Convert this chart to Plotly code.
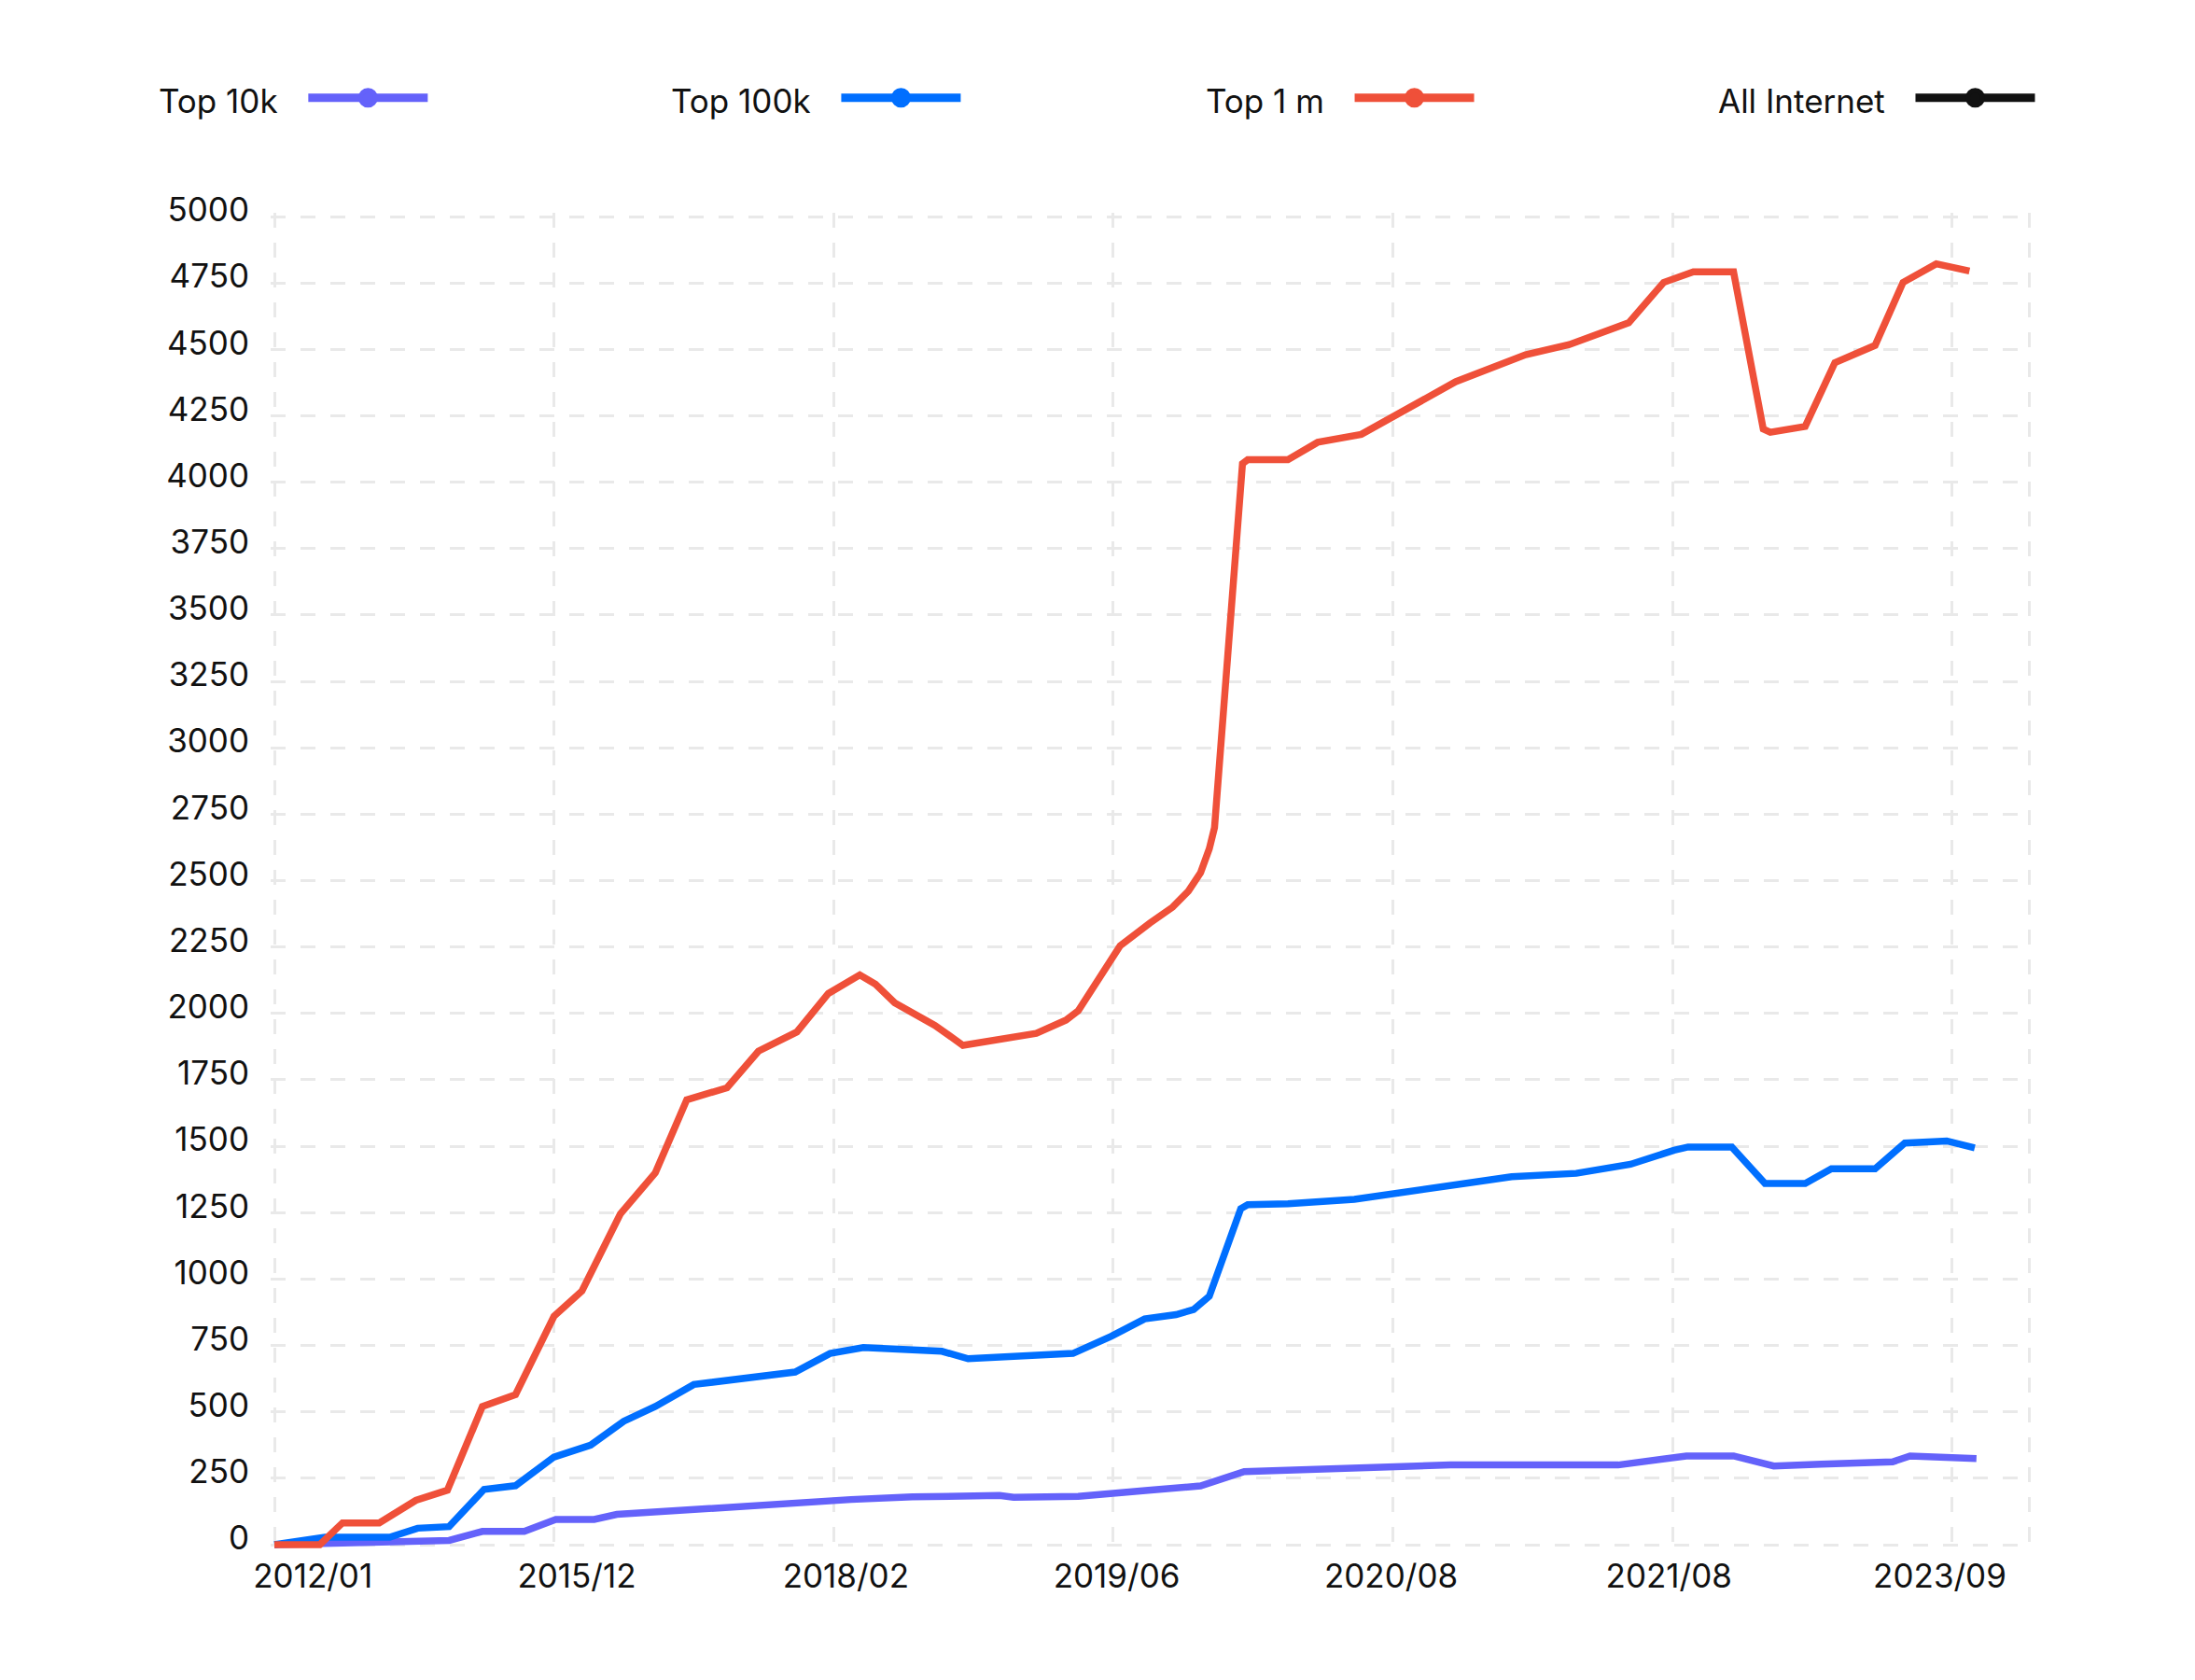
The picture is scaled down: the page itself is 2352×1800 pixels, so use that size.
import plotly.graph_objects as go

# ---- data (x = position along the irregular period axis) ----
top1m_x = [0, 2.6, 3.9, 6.0, 8.1, 9.9, 11.9, 13.8, 16.0, 17.6, 19.8, 21.8, 23.6, 25.9, 27.7, 29.9,
           31.7, 33.5, 34.4, 35.5, 37.8, 39.4, 43.6, 45.3, 46.0, 48.4, 50.1, 51.4, 52.3, 53.0, 53.5,
           53.8, 55.4, 55.7, 58.0, 59.7, 62.2, 67.6, 71.6, 74.1, 77.5, 79.5, 81.2, 83.5, 85.2, 85.6,
           87.6, 89.3, 91.6, 93.2, 95.1, 97.0]
top1m_y = [0, 0, 82, 82, 167, 205, 520, 565, 860, 955, 1245, 1400, 1675, 1720, 1858, 1930,
           2075, 2145, 2110, 2040, 1955, 1880, 1925, 1975, 2010, 2255, 2340, 2400, 2460, 2530, 2620,
           2700, 4070, 4085, 4085, 4150, 4180, 4378, 4480, 4518, 4600, 4752, 4792, 4792, 4200, 4188,
           4210, 4450, 4515, 4752, 4822, 4795]

top100k_x = [0, 2.9, 6.6, 8.2, 10.0, 12.0, 13.8, 16.0, 18.1, 20.0, 21.8, 24.0, 29.8, 31.8, 33.7,
             36.0, 38.2, 39.7, 45.7, 47.9, 49.8, 51.6, 52.6, 53.5, 55.3, 55.7, 58.0, 61.8, 63.4,
             65.9, 68.4, 70.8, 74.5, 77.6, 80.1, 80.9, 83.4, 85.3, 87.6, 89.1, 91.6, 93.3, 95.7, 97.3]
top100k_y = [0, 28, 28, 62, 68, 208, 222, 330, 375, 465, 520, 603, 650, 720, 742,
             732, 728, 700, 720, 785, 850, 866, 885, 935, 1265, 1280, 1283, 1300, 1315,
             1343, 1365, 1385, 1398, 1432, 1485, 1497, 1497, 1360, 1360, 1415, 1415, 1512, 1520, 1494]

top10k_x = [0, 10.0, 11.9, 14.3, 16.1, 18.3, 19.6, 22.9, 25.8, 29.1, 33.0, 36.5, 41.5, 42.3, 46.0,
            50.0, 53.0, 55.5, 59.7, 63.5, 67.3, 76.9, 79.0, 80.8, 83.5, 85.8, 88.5, 92.6, 93.6, 95.9, 97.4]
top10k_y = [0, 16, 50, 50, 95, 95, 114, 128, 146, 158, 170, 180, 185, 178, 182,
            205, 221, 275, 283, 293, 300, 300, 318, 334, 334, 296, 303, 312, 334, 330, 324]

series_names = ["Top 10k", "Top 100k", "Top 1 m", "All Internet"]
series_colors = ["#6462FA", "#006FFF", "#EF5039", "#111111"]

period_labels = ["2012/01", "2015/12", "2018/02", "2019/06", "2020/08", "2021/08", "2023/09"]
period_label_pos = [2.2, 17.3, 32.7, 48.2, 63.9, 79.8, 95.3]
grid_pos = [0, 16, 32, 48, 64, 80, 96, 100.4]
y_ticks = list(range(0, 5001, 250))

FONT = "Inter, Roboto, sans-serif"
FS = 35
W, H = 2352, 1800

# plot frame: x 0 -> 294px, 100.4 -> 2174px ; y 0 -> 1655px, 5000 -> 232px
ML, MR, MT, MB = 290, 174, 228, 141
x_scale = (2174 - 294) / 100.4
x_range = [-(294 - ML) / x_scale, 100.4 + (W - MR - 2174) / x_scale]
y_scale = (1655 - 232) / 5000
y_range = [-(H - MB - 1655) / y_scale, 5000 + (232 - MT) / y_scale]

fig = go.Figure()

series_data = [(top10k_x, top10k_y), (top100k_x, top100k_y), (top1m_x, top1m_y)]
for i, (xs, ys) in enumerate(series_data):
    fig.add_trace(go.Scatter(x=xs, y=ys, mode="lines", showlegend=False,
                             line=dict(color=series_colors[i], width=7.5),
                             hoverinfo="skip"))
# legend-only entries (one legend each, title on the left like the reference)
for i, name in enumerate(series_names):
    lg = "legend" if i == 0 else f"legend{i+1}"
    fig.add_trace(go.Scatter(x=[None], y=[None], mode="lines+markers", name=" ",
                             legend=lg, showlegend=True, xaxis="x2", yaxis="y",
                             line=dict(color=series_colors[i], width=9),
                             marker=dict(color=series_colors[i], size=30,
                                         line=dict(color=series_colors[i], width=6))))

legend_x = [168, 717, 1290, 1839]
legend_common = dict(orientation="h", xref="container", yref="container",
                     xanchor="left", yanchor="middle", bgcolor="rgba(0,0,0,0)",
                     font=dict(family=FONT, size=FS, color="#111"), itemwidth=128)
layout_legends = {}
for i, name in enumerate(series_names):
    key = "legend" if i == 0 else f"legend{i+1}"
    layout_legends[key] = dict(legend_common, x=legend_x[i] / W, y=1 - 105 / H,
                               title=dict(text=name + "&nbsp;&nbsp;", side="left",
                                          font=dict(family=FONT, size=FS, color="#111")))

grid_style = dict(showgrid=True, gridcolor="#E9E9E9", gridwidth=3, griddash="16px,16px")

fig.update_layout(
    width=W, height=H,
    margin=dict(l=ML, r=MR, t=MT, b=MB),
    paper_bgcolor="white", plot_bgcolor="white",
    font=dict(family=FONT, size=FS, color="#111"),
    xaxis=dict(range=x_range, tickmode="array", tickvals=grid_pos, showticklabels=False,
               zeroline=False, showline=False, ticks="", **grid_style),
    xaxis2=dict(range=x_range, overlaying="x", anchor="y", side="bottom",
                tickmode="array", tickvals=period_label_pos, ticktext=period_labels,
                showgrid=False, zeroline=False, showline=False, ticks="",
                tickfont=dict(family=FONT, size=FS, color="#111"), ticklabelstandoff=6),
    yaxis=dict(range=y_range, tickmode="array", tickvals=y_ticks,
               ticktext=[str(v) for v in y_ticks], zeroline=False, showline=False, ticks="",
               tickfont=dict(family=FONT, size=FS, color="#111"), ticklabelstandoff=22,
               ticklabelshift=-7, **grid_style),
    **layout_legends,
)

fig.write_html("out.html")
